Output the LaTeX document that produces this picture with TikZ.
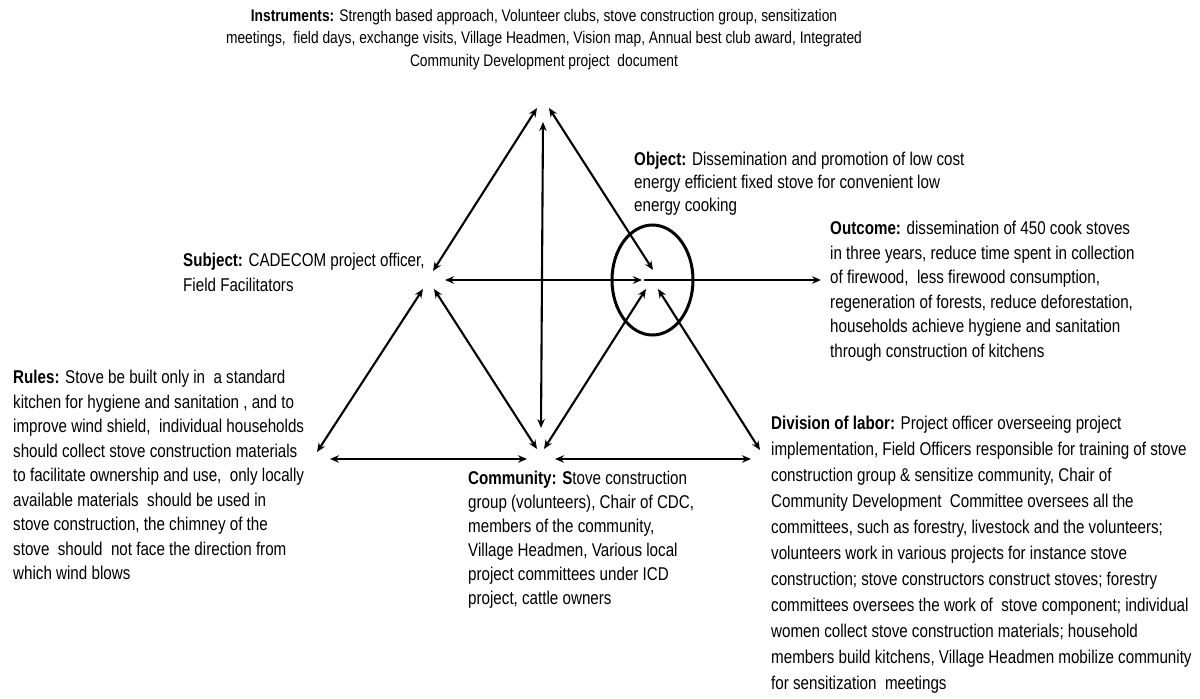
\documentclass[tikz,border=0pt]{standalone}
\usepackage{fontspec}
\setmainfont[FakeStretch=0.82]{Liberation Sans}
\usetikzlibrary{arrows.meta,shapes.geometric}
\begin{document}
\begin{tikzpicture}[x=1pt,y=-1pt]
\tikzset{
  tip/.style={>={Stealth[length=9pt,width=7.5pt]}},
  arr/.style={<->,tip,line width=2.1pt},
  arrh/.style={<->,tip,line width=2.5pt},
  arrone/.style={->,tip,line width=2.5pt},
  txt/.style={inner sep=0pt,align=left,anchor=north west},
  fmain/.style={font=\fontsize{18.5}{#1}\selectfont},
}
\useasboundingbox (0,0) rectangle (1200,699);
\fill[white] (0,0) rectangle (1200,699);

% texts
\node[txt,align=center,anchor=north,font=\fontsize{16.8}{22.5}\selectfont] (instr) at (544,9) {\textbf{Instruments:} Strength based approach, Volunteer clubs, stove construction group, sensitization\\ meetings,~ field days, exchange visits, Village Headmen, Vision map, Annual best club award, Integrated\\ Community Development project~ document};
\node[txt,fmain=22.8] (object) at (634,152) {\textbf{Object:} Dissemination and promotion of low cost\\ energy efficient fixed stove for convenient low\\ energy cooking};
\node[txt,fmain=24.5] (outcome) at (830,221) {\textbf{Outcome:} dissemination of 450 cook stoves\\ in three years, reduce time spent in collection\\ of firewood,~ less firewood consumption,\\ regeneration of forests, reduce deforestation,\\ households achieve hygiene and sanitation\\ through construction of kitchens};
\node[txt,fmain=25] (subject) at (183,253) {\textbf{Subject:} CADECOM project officer,\\ Field Facilitators};
\node[txt,fmain=24.5] (rules) at (13,370) {\textbf{Rules:} Stove be built only in~ a standard\\ kitchen for hygiene and sanitation , and to\\ improve wind shield,~ individual households\\ should collect stove construction materials\\ to facilitate ownership and use,~ only locally\\ available materials~ should be used in\\ stove construction, the chimney of the\\ stove~ should~ not face the direction from\\ which wind blows};
\node[txt,fmain=24] (community) at (468,471) {\textbf{Community: S}tove construction\\ group (volunteers), Chair of CDC,\\ members of the community,\\ Village Headmen, Various local\\ project committees under ICD\\ project, cattle owners};
\node[txt,fmain=26] (division) at (771,416) {\textbf{Division of labor:} Project officer overseeing project\\ implementation, Field Officers responsible for training of stove\\ construction group \& sensitize community, Chair of\\ Community Development~ Committee oversees all the\\ committees, such as forestry, livestock and the volunteers;\\ volunteers work in various projects for instance stove\\ construction; stove constructors construct stoves; forestry\\ committees oversees the work of~ stove component; individual\\ women collect stove construction materials; household\\ members build kitchens, Village Headmen mobilize community\\ for sensitization~ meetings};

% circle around object vertex
\node[draw,ellipse,line width=3pt,minimum width=81pt,minimum height=110pt,inner sep=0pt] (ring) at (652.5,280) {};

% connector end points
\coordinate (Ta) at (537,108);
\coordinate (Tb) at (549,108);
\coordinate (Tc) at (543,122);
\coordinate (Sa) at (433,271);
\coordinate (Sb) at (445,280);
\coordinate (Sc) at (423,289);
\coordinate (Sd) at (434,289);
\coordinate (Oa) at (653,270);
\coordinate (Ob) at (642,280);
\coordinate (Oc) at (646,289);
\coordinate (Od) at (658,289);
\coordinate (Oe) at (644,280);
\coordinate (Out) at (821,280);
\coordinate (Ca) at (537,449);
\coordinate (Cb) at (544,449);
\coordinate (Cc) at (541,428);
\coordinate (Cd) at (527,459);
\coordinate (Ce) at (555,459);
\coordinate (Ra) at (317,452);
\coordinate (Rb) at (330,459);
\coordinate (Da) at (760,450);
\coordinate (Db) at (751,459);

\draw[arr] (Ta) -- (Sa);
\draw[arr] (Tb) -- (Oa);
\draw[arr] (Tc) -- (Cc);
\draw[arrh] (Sb) -- (Ob);
\draw[arrone] (Oe) -- (Out);
\draw[arr] (Sc) -- (Ra);
\draw[arr] (Sd) -- (Ca);
\draw[arr] (Oc) -- (Cb);
\draw[arr] (Od) -- (Da);
\draw[arrh] (Rb) -- (Cd);
\draw[arrh] (Ce) -- (Db);
\end{tikzpicture}
\end{document}
